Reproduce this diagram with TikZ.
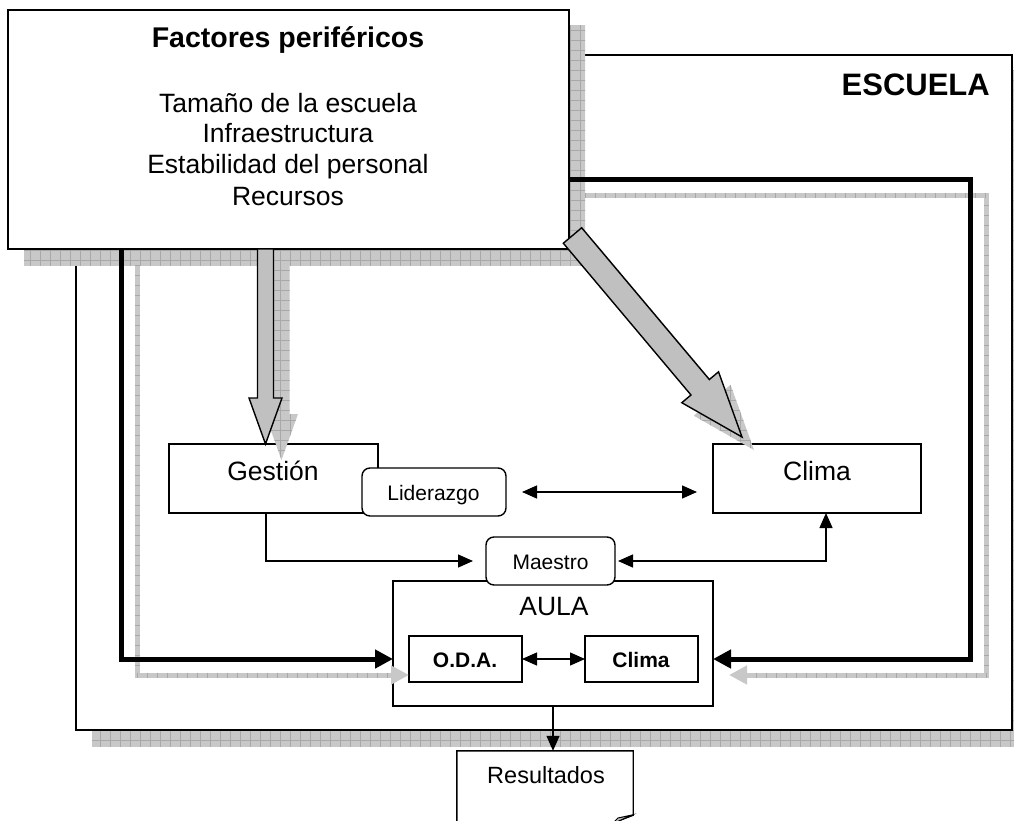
\documentclass[tikz,border=0pt]{standalone}
\usepackage{fontspec}
\setmainfont{Liberation Sans}
\usetikzlibrary{calc,arrows.meta,decorations.pathreplacing}

\definecolor{shfill}{RGB}{200,200,200}
\definecolor{shgrid}{RGB}{168,168,168}
\definecolor{blockfill}{RGB}{192,192,192}

% hatched grey texture used for every drop shadow (call inside a clipped scope)
\newcommand{\hatchfill}{%
  \fill[shfill] (-50,900) rectangle (1100,-50);
  \draw[shgrid, line width=0.6pt, step=10pt] (-50,900) grid (1100,-50);}

% outline of a block arrow: #1 path options, #2 tail, #3 tip,
% #4 half shaft width, #5 half head width, #6 head length
\newcommand{\blockpath}[6]{%
  \coordinate (neck) at ($(#3)!#6!(#2)$);
  \path[#1] ($(#2)!#4!90:(#3)$) -- ($(neck)!#4!90:(#3)$) -- ($(neck)!#5!90:(#3)$)
    -- (#3) -- ($(neck)!#5!-90:(#3)$) -- ($(neck)!#4!-90:(#3)$)
    -- ($(#2)!#4!-90:(#3)$) -- cycle;}

\tikzset{
  box/.style={draw, line width=1.4pt, fill=white, inner sep=0pt, outer sep=0pt},
  rbox/.style={box, rounded corners=8pt},
  lbl/.style={anchor=base, inner sep=0pt},
  conn/.style={line width=1.3pt, -{Triangle[length=15pt,width=13pt]}},
  conn2/.style={line width=1.3pt, {Triangle[length=15pt,width=13pt]}-{Triangle[length=15pt,width=13pt]}},
  fb/.style={line width=5pt, line join=miter, -{Triangle[length=18pt,width=18pt]}},
  fbshadow/.style={fb, draw=shfill},
  fbticks/.style={shgrid, line width=0.6pt, decorate,
    decoration={ticks, segment length=10pt, amplitude=2.5pt}},
  blockarrow/.style={fill=blockfill, draw, line width=1.4pt, line join=miter},
  shoff/.style={shift={(16,16)}},
  bigtxt/.style={font=\fontsize{26.5}{31}\selectfont},
  smalltxt/.style={font=\fontsize{21}{25}\selectfont},
}

\begin{document}
\begin{tikzpicture}[x=1pt,y=-1pt]
\path[use as bounding box, clip] (0,0) rectangle (1014,821);

% ---------- school frame ----------
\begin{scope}
  \clip (92,71) rectangle (1028,746);
  \hatchfill
\end{scope}
\node[box, minimum width=936pt, minimum height=675pt] (escuela) at (544,392.5) {};
\node[lbl, anchor=base east, font=\fontsize{31}{36}\selectfont\bfseries] (escuelalbl) at (990,96) {ESCUELA};

% ---------- peripheral factors ----------
\begin{scope}
  \clip (24,26) rectangle (585,265);
  \hatchfill
\end{scope}
\node[box, minimum width=561pt, minimum height=239pt] (fact) at (288.5,129.5) {};
\node[lbl, font=\fontsize{28.5}{34}\selectfont\bfseries] (ftitle) at (288,48) {Factores periféricos};
\node[lbl, bigtxt] (f1) at (288,113) {Tamaño de la escuela};
\node[lbl, bigtxt] (f2) at (288,143) {Infraestructura};
\node[lbl, bigtxt] (f3) at (288,174) {Estabilidad del personal};
\node[lbl, bigtxt] (f4) at (288,205) {Recursos};

% ---------- inner boxes ----------
\node[box, minimum width=209pt, minimum height=69pt] (gestion) at (273.5,478.5) {};
\node[lbl, bigtxt] (gestionlbl) at (273,480) {Gestión};
\node[box, minimum width=208pt, minimum height=69pt] (clima) at (817,478.5) {};
\node[lbl, bigtxt] (climalbl) at (817,480) {Clima};
\node[rbox, minimum width=144pt, minimum height=48pt] (lider) at (434,492) {};
\node[lbl, smalltxt] (liderlbl) at (433.5,500) {Liderazgo};

\node[box, minimum width=320pt, minimum height=125pt] (aula) at (553,643.5) {};
\node[lbl, bigtxt] (aulalbl) at (554,615) {AULA};
\node[box, minimum width=113pt, minimum height=46pt] (oda) at (465.5,659) {};
\node[lbl, font=\fontsize{21}{25}\selectfont\bfseries] (odalbl) at (465,667) {O.D.A.};
\node[box, minimum width=113pt, minimum height=46pt] (climaula) at (641.5,659) {};
\node[lbl, font=\fontsize{21}{25}\selectfont\bfseries] (climaulalbl) at (641,667) {Clima};

\node[rbox, minimum width=129pt, minimum height=48pt] (maestro) at (550.5,561) {};
\node[lbl, smalltxt] (maestrolbl) at (550.5,569) {Maestro};

% ---------- feedback loops into the classroom ----------
\coordinate (lk) at (121,249);
\coordinate (lend) at (aula.west |- oda.west);
\coordinate (rk) at (569,180);
\coordinate (rc) at (970,180);
\coordinate (rend) at (aula.east |- climaula.east);

\draw[fbshadow] ([shoff]lk) |- ([shoff]lend);
\draw[fbticks] ([shoff]lk) |- ([shift={(-2,16)}]lend);
\draw[fbshadow] ([shoff]rk) -- ([shoff]rc) |- ([shoff]rend);
\draw[fbticks] ([shoff]rk) -- ([shoff]rc) |- ([shift={(34,16)}]rend);

\draw[fb] (lk) |- (lend);
\draw[fb] (rk) -- (rc) |- (rend);

% ---------- thin connectors ----------
\draw[conn2, shorten <=16pt, shorten >=16pt] (lider.east) -- (clima.west |- lider.east);
\draw[conn, shorten >=13pt] ([xshift=-7.5pt]gestion.south) |- (maestro.west);
\draw[conn2] (oda.east) -- (climaula.west);
\draw[conn2, shorten >=3pt] ([xshift=9pt]clima.south) |- (maestro.east);

% ---------- block arrows from the peripheral factors ----------
\coordinate (gtip) at ([xshift=-8pt]gestion.north);
\coordinate (gtail) at (gtip |- fact.south);
\coordinate (dtip) at ([xshift=29pt,yshift=7pt]clima.north west);
\coordinate (dtail) at ([xshift=3.5pt,yshift=13.5pt]fact.south east);

\begin{scope}
  \blockpath{clip}{[shoff]gtail}{[shoff]gtip}{8pt}{16.5pt}{46pt}
  \hatchfill
\end{scope}
\blockpath{blockarrow}{gtail}{gtip}{8pt}{16.5pt}{46pt}

\begin{scope}
  \blockpath{clip}{[shift={(12,13)}]dtail}{[shift={(12,13)}]dtip}{12pt}{24pt}{65pt}
  \hatchfill
\end{scope}
\blockpath{blockarrow}{dtail}{dtip}{12pt}{24pt}{65pt}

% ---------- results ----------
\node[minimum width=176pt, minimum height=70pt, inner sep=0pt] (res) at (545,786) {};
\draw[line width=1.4pt, fill=white, line join=miter]
  ([yshift=-20pt]res.south west) -- (res.north west) -- (res.north east)
  -- ([yshift=6pt]res.south east) -- ([shift={(-21,2)}]res.south east);
\filldraw[fill=blockfill, line width=1pt] (632,815) -- (618,818) -- (612,824) -- cycle;
\node[lbl, font=\fontsize{23.5}{28}\selectfont] (reslbl) at (546,783) {Resultados};
\draw[conn] (aula.south) -- (aula.south |- res.north);

\end{tikzpicture}
\end{document}
